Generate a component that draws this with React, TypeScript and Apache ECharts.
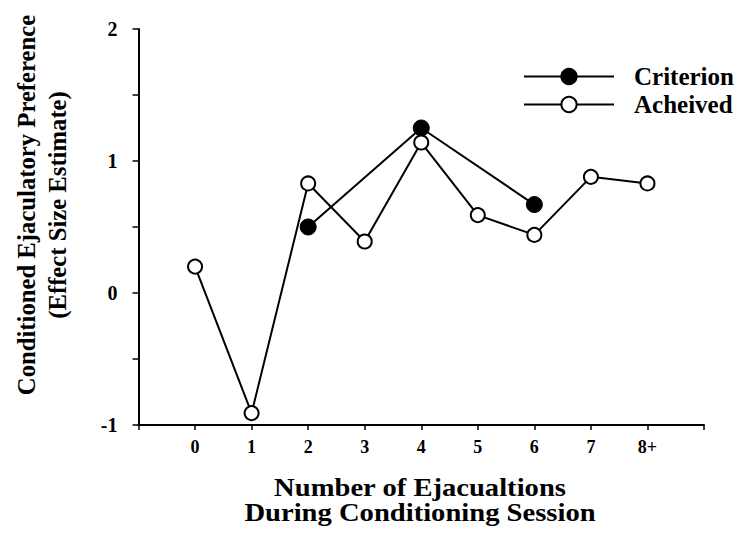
import React, { useEffect, useRef } from "react";
import * as echarts from "echarts";

// Sessions along the x axis (position = index), last one pooled as "8+"
const sessionLabels = ["0", "1", "2", "3", "4", "5", "6", "7", "8+"];

// Effect size estimates
const achievedValues = [0.2, -0.91, 0.83, 0.39, 1.14, 0.59, 0.44, 0.88, 0.83];
const criterionSessions = [2, 4, 6];
const criterionValues = [0.5, 1.25, 0.67];

const yTicks = [-1, 0, 1, 2];

const yTitleLines = ["Conditioned Ejaculatory Preference", "(Effect Size Estimate)"];
const xTitleLines = ["Number of Ejacualtions", "During Conditioning Session"];

const FONT = '"Liberation Serif", "Times New Roman", "DejaVu Serif", serif';

export default function App() {
  const ref = useRef<HTMLDivElement>(null);

  useEffect(() => {
    if (!ref.current) return;
    const chart = echarts.init(ref.current, null, { renderer: "svg" });

    const achievedData = achievedValues.map((v, i) => [i, v]);
    const criterionData = criterionValues.map((v, i) => [criterionSessions[i], v]);

    const titleStyle = {
      fontFamily: FONT,
      fontWeight: "bold",
      fill: "#000",
      textAlign: "center",
      textVerticalAlign: "middle",
    };

    chart.setOption({
      animation: false,
      backgroundColor: "#fff",
      grid: {
        left: 130.5,
        right: 40,
        top: 21,
        bottom: 105,
        outerBoundsMode: "none",
      },
      legend: {
        orient: "vertical",
        left: 510,
        top: 51,
        itemWidth: 90,
        itemHeight: 19,
        itemGap: 3,
        selectedMode: false,
        data: ["Criterion", "Acheived"],
        textStyle: {
          fontFamily: FONT,
          fontWeight: "bold",
          fontSize: 25,
          color: "#000",
          padding: [0, 0, 0, 15],
        },
      },
      xAxis: {
        type: "value",
        min: -1,
        max: 9,
        interval: 1,
        splitLine: { show: false },
        axisLine: { onZero: false, lineStyle: { color: "#000", width: 2 } },
        axisTick: { show: true, inside: false, length: 5, lineStyle: { color: "#000", width: 1.5 } },
        axisLabel: {
          margin: 13,
          fontFamily: FONT,
          fontWeight: "bold",
          fontSize: 18,
          color: "#000",
          formatter: (v: number) =>
            v >= 0 && v < sessionLabels.length ? sessionLabels[v] : "",
        },
      },
      yAxis: {
        type: "value",
        min: -1,
        max: 2,
        interval: 0.5,
        splitLine: { show: false },
        axisLine: { onZero: false, lineStyle: { color: "#000", width: 2 } },
        axisTick: { show: true, inside: false, length: 6, lineStyle: { color: "#000", width: 1.5 } },
        axisLabel: {
          margin: 21,
          fontFamily: FONT,
          fontWeight: "bold",
          fontSize: 20,
          color: "#000",
          formatter: (v: number) => (yTicks.indexOf(v) >= 0 ? String(v) : ""),
        },
      },
      graphic: [
        {
          type: "text",
          x: 18,
          y: 197,
          rotation: Math.PI / 2,
          scaleX: 0.95,
          style: { ...titleStyle, text: yTitleLines[0], fontSize: 26 },
        },
        {
          type: "text",
          x: 49,
          y: 197,
          rotation: Math.PI / 2,
          scaleX: 0.95,
          style: { ...titleStyle, text: yTitleLines[1], fontSize: 26 },
        },
        {
          type: "text",
          x: 412,
          y: 479,
          scaleX: 1.1,
          style: { ...titleStyle, text: xTitleLines[0], fontSize: 26 },
        },
        {
          type: "text",
          x: 412,
          y: 504,
          scaleX: 1.1,
          style: { ...titleStyle, text: xTitleLines[1], fontSize: 26 },
        },
      ],
      series: [
        {
          name: "Criterion",
          type: "line",
          data: criterionData,
          symbol: "circle",
          symbolSize: 16,
          lineStyle: { color: "#000", width: 2 },
          itemStyle: { color: "#000", borderColor: "#000", borderWidth: 1 },
          z: 2,
        },
        {
          name: "Acheived",
          type: "line",
          data: achievedData,
          symbol: "circle",
          symbolSize: 14,
          lineStyle: { color: "#000", width: 2 },
          itemStyle: { color: "#fff", borderColor: "#000", borderWidth: 2 },
          z: 3,
        },
      ],
    });

    return () => chart.dispose();
  }, []);

  return <div ref={ref} style={{ width: 736, height: 522 }} />;
}
